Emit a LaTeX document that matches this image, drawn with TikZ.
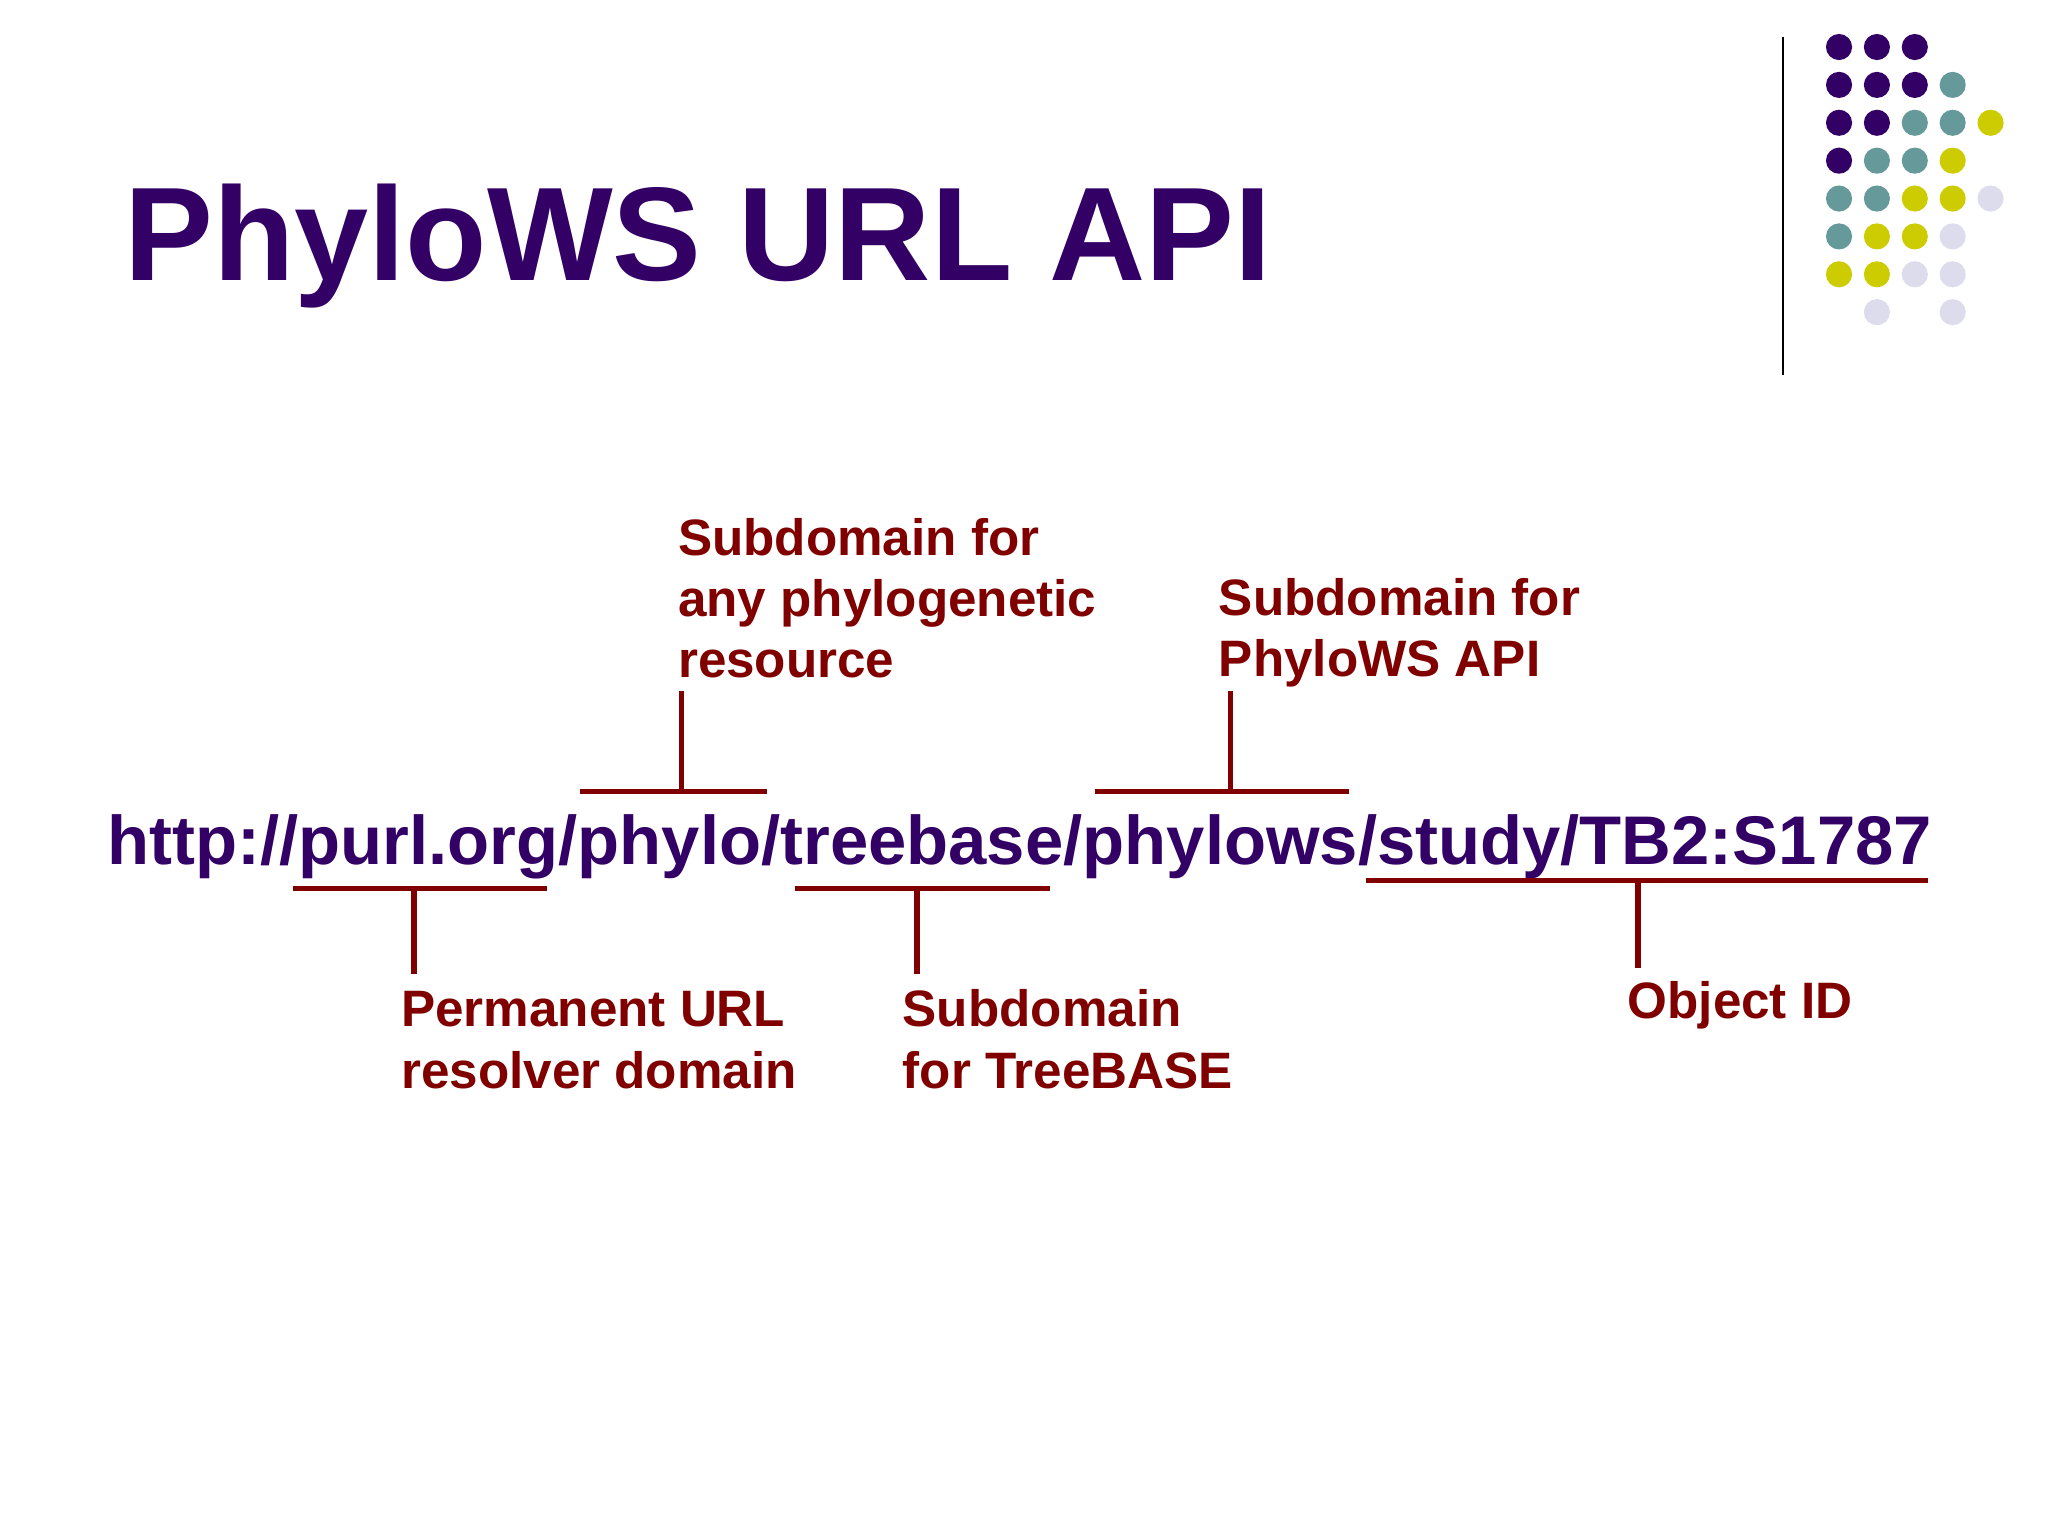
\documentclass[tikz,border=0pt]{standalone}
\usepackage{fontspec}
\setmainfont{Liberation Sans}
\definecolor{pur}{HTML}{330066}
\definecolor{tea}{HTML}{669999}
\definecolor{yel}{HTML}{CCCC00}
\definecolor{lav}{HTML}{DCDCEC}
\definecolor{dred}{HTML}{800000}
\begin{document}
\begin{tikzpicture}[x=1pt,y=-1pt,
  lbl/.style={anchor=base west,inner sep=0pt,text=dred,font=\fontsize{39.2}{44}\selectfont\bfseries},
  br/.style={draw=dred,line width=4pt},
  dot/.style={circle,inner sep=0pt,minimum size=20pt}]
\useasboundingbox[fill=white] (0,0) rectangle (1568,1176);
\node[anchor=base west,inner sep=0pt,text=pur,font=\fontsize{102}{110}\selectfont\bfseries] (title) at (95,215) {PhyloWS URL API};
\draw[line width=1.2pt] (1365,28) -- (1365,287);
\foreach \r/\list in {0/{pur,pur,pur},1/{pur,pur,pur,tea},2/{pur,pur,tea,tea,yel},3/{pur,tea,tea,yel},4/{tea,tea,yel,yel,lav},5/{tea,yel,yel,lav},6/{yel,yel,lav,lav}}{
  \foreach \c [count=\i from 0] in \list {\node[dot,fill=\c] (d\r\i) at (1408+29*\i,36+29*\r) {};}}
\node[dot,fill=lav] (d71) at (1437,239) {};
\node[dot,fill=lav] (d73) at (1495,239) {};
\node[anchor=base west,inner sep=0pt,text=pur,font=\fontsize{52.7}{60}\selectfont\bfseries] (url) at (82,662) {http://purl.org/phylo/treebase/phylows/study/TB2:S1787};
% brackets
\draw[br] (444,606) -- (587,606) (522,606) -- (522,529);
\draw[br] (838,606) -- (1033,606) (942,606) -- (942,529);
\draw[br] (224,680) -- (419,680) (317,680) -- (317,746);
\draw[br] (609,680) -- (804,680) (702,680) -- (702,746);
\draw[br] (1046,674) -- (1476,674) (1254,674) -- (1254,741);
\node[lbl] (a1) at (519,425) {Subdomain for};
\node[lbl] (a2) at (519,472) {any phylogenetic};
\node[lbl] (a3) at (519,519) {resource};
\node[lbl] (b1) at (933,471) {Subdomain for};
\node[lbl] (b2) at (933,518) {PhyloWS API};
\node[lbl] (c1) at (307,786) {Permanent URL};
\node[lbl] (c2) at (307,833) {resolver domain};
\node[lbl] (e1) at (691,786) {Subdomain};
\node[lbl] (e2) at (691,833) {for TreeBASE};
\node[lbl] (f1) at (1246,780) {Object ID};
\end{tikzpicture}
\end{document}
